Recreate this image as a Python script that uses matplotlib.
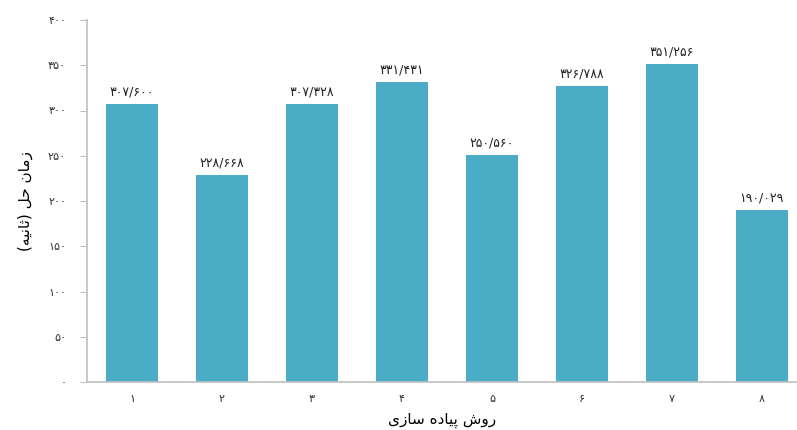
import numpy as np
import matplotlib.pyplot as plt

# solve time for each implementation method
methods = [1, 2, 3, 4, 5, 6, 7, 8]
solve_time = [307.600, 228.668, 307.328, 331.431, 250.560, 326.788, 351.256, 190.029]
y_ticks = [0, 50, 100, 150, 200, 250, 300, 350, 400]

x_title = 'روش پیاده سازی'
y_title = 'زمان حل (ثانیه)'

# presentation forms: isolated, final, initial, medial
FORMS = {
    'ا': (0xFE8D, 0xFE8E, None, None),
    'ر': (0xFEAD, 0xFEAE, None, None),
    'ز': (0xFEAF, 0xFEB0, None, None),
    'د': (0xFEA9, 0xFEAA, None, None),
    'و': (0xFEED, 0xFEEE, None, None),
    'ش': (0xFEB5, 0xFEB6, 0xFEB7, 0xFEB8),
    'س': (0xFEB1, 0xFEB2, 0xFEB3, 0xFEB4),
    'پ': (0xFB56, 0xFB57, 0xFB58, 0xFB59),
    'ی': (0xFBFC, 0xFBFD, 0xFBFE, 0xFBFF),
    'ه': (0xFEE9, 0xFEEA, 0xFEEB, 0xFEEC),
    'م': (0xFEE1, 0xFEE2, 0xFEE3, 0xFEE4),
    'ن': (0xFEE5, 0xFEE6, 0xFEE7, 0xFEE8),
    'ح': (0xFEA1, 0xFEA2, 0xFEA3, 0xFEA4),
    'ل': (0xFEDD, 0xFEDE, 0xFEDF, 0xFEE0),
    'ث': (0xFE99, 0xFE9A, 0xFE9B, 0xFE9C),
}


def dual(c):
    return c in FORMS and FORMS[c][2] is not None


def fa_text(s):
    # shape the letters, then lay them out left to right for drawing
    out = []
    for i, c in enumerate(s):
        if c not in FORMS:
            out.append(c)
            continue
        prev_joins = i > 0 and dual(s[i - 1])
        next_joins = i + 1 < len(s) and s[i + 1] in FORMS and dual(c)
        iso, fin, ini, med = FORMS[c]
        if prev_joins and next_joins:
            code = med
        elif prev_joins:
            code = fin
        elif next_joins:
            code = ini
        else:
            code = iso
        out.append(chr(code))
    vis = ''.join(reversed(out))
    return vis.translate(str.maketrans('()', ')('))


def fa_num(s):
    return str(s).translate(str.maketrans('0123456789', '۰۱۲۳۴۵۶۷۸۹'))


plt.rcParams['font.family'] = ['DejaVu Sans']

fig = plt.figure(figsize=(7.97, 4.30), dpi=100)
ax = fig.add_axes([87 / 797, 48 / 430, 710 / 797, 362 / 430])

x = np.arange(len(methods))
ax.bar(x, solve_time, width=0.57, color='#4BACC6')

for xi, v in zip(x, solve_time):
    ax.text(xi, v + 6, fa_num(f'{v:.3f}').replace('.', '/'),
            ha='center', va='bottom', fontsize=9, color='#222222')

ax.set_xlim(-0.5, 7.5 - 10 / 90)
ax.set_ylim(0, 400)
ax.set_xticks(x)
ax.set_xticklabels([fa_num(m) for m in methods], fontsize=8, color='#333333')
ax.set_yticks(y_ticks)
ax.set_yticklabels([fa_num(t) for t in y_ticks], fontsize=8, color='#333333')
ax.tick_params(axis='x', length=0, pad=9)
ax.tick_params(axis='y', length=5, color='#BFBFBF', pad=10)

for side in ['top', 'right']:
    ax.spines[side].set_visible(False)
for side in ['left', 'bottom']:
    ax.spines[side].set_color('#BFBFBF')
    ax.spines[side].set_linewidth(1.2)

ax.set_xlabel(fa_text(x_title), fontsize=11, labelpad=6)
ax.set_ylabel(fa_text(y_title), fontsize=11, labelpad=11)

fig.savefig('out.png', dpi=100)
